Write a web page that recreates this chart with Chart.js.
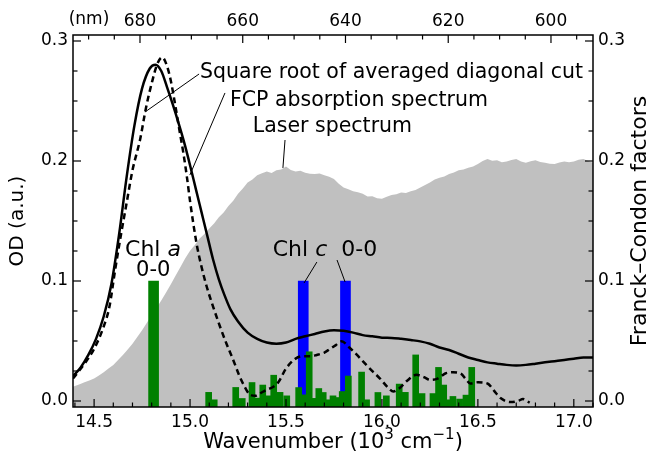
<!DOCTYPE html>
<html>
<head>
<meta charset="utf-8">
<script src="https://cdn.jsdelivr.net/npm/chart.js@4.4.1/dist/chart.umd.min.js"></script>
<style>
  html, body { margin: 0; padding: 0; background: #fff; }
</style>
</head>
<body>
<canvas id="fcp-chart" width="653" height="459"></canvas>
<script>
// wavenumber in 10^3 cm-1
var laserWn = [14.350, 14.375, 14.400, 14.425, 14.450, 14.475, 14.500, 14.525, 14.550, 14.575, 14.600, 14.625,
  14.650, 14.675, 14.700, 14.725, 14.750, 14.775, 14.800, 14.825, 14.850, 14.875, 14.900, 14.925, 14.950, 14.975,
  15.000, 15.025, 15.050, 15.075, 15.100, 15.125, 15.150, 15.175, 15.200, 15.225, 15.250, 15.275, 15.300, 15.325,
  15.350, 15.375, 15.400, 15.425, 15.450, 15.475, 15.500, 15.525, 15.550, 15.575, 15.600, 15.625, 15.650, 15.675,
  15.700, 15.725, 15.750, 15.775, 15.800, 15.825, 15.850, 15.875, 15.900, 15.925, 15.950, 15.975, 16.000, 16.025,
  16.050, 16.075, 16.100, 16.125, 16.150, 16.175, 16.200, 16.225, 16.250, 16.275, 16.300, 16.325, 16.350, 16.375,
  16.400, 16.425, 16.450, 16.475, 16.500, 16.525, 16.550, 16.575, 16.600, 16.625, 16.650, 16.675, 16.700, 16.725,
  16.750, 16.775, 16.800, 16.825, 16.850, 16.875, 16.900, 16.925, 16.950, 16.975, 17.000, 17.025, 17.050, 17.075,
  17.100, 17.125, 17.150];
var laserOD = [0.0094, 0.0110, 0.0125, 0.0140, 0.0156, 0.0171, 0.0187, 0.0212, 0.0239, 0.0270, 0.0301, 0.0342,
  0.0384, 0.0430, 0.0477, 0.0533, 0.0590, 0.0652, 0.0714, 0.0776, 0.0838, 0.0905, 0.0973, 0.1045, 0.1117, 0.1190,
  0.1252, 0.1300, 0.1355, 0.1392, 0.1438, 0.1480, 0.1531, 0.1570, 0.1624, 0.1668, 0.1727, 0.1770, 0.1820, 0.1845,
  0.1882, 0.1898, 0.1913, 0.1901, 0.1923, 0.1930, 0.1954, 0.1925, 0.1913, 0.1918, 0.1903, 0.1893, 0.1892, 0.1895,
  0.1882, 0.1868, 0.1851, 0.1810, 0.1779, 0.1765, 0.1748, 0.1740, 0.1727, 0.1705, 0.1706, 0.1690, 0.1686, 0.1702,
  0.1717, 0.1722, 0.1737, 0.1734, 0.1748, 0.1758, 0.1779, 0.1800, 0.1820, 0.1845, 0.1861, 0.1870, 0.1892, 0.1905,
  0.1923, 0.1930, 0.1944, 0.1955, 0.1975, 0.2000, 0.2016, 0.2002, 0.2006, 0.1990, 0.1996, 0.2008, 0.2016, 0.1995,
  0.1985, 0.1998, 0.2006, 0.1992, 0.1985, 0.1978, 0.1975, 0.1988, 0.1996, 0.1990, 0.1996, 0.2010, 0.2016, 0.2000,
  0.1985, 0.1980, 0.1975];

var absWn = [14.39, 14.43, 14.47, 14.51, 14.55, 14.59, 14.63, 14.67, 14.71, 14.75, 14.79, 14.82, 14.85, 14.88,
  14.91, 14.94, 14.97, 15.00, 15.03, 15.06, 15.09, 15.12, 15.15, 15.18, 15.21, 15.25, 15.30, 15.35, 15.40, 15.45,
  15.50, 15.55, 15.60, 15.65, 15.70, 15.75, 15.80, 15.85, 15.90, 15.95, 16.00, 16.05, 16.10, 16.15, 16.20, 16.25,
  16.30, 16.35, 16.40, 16.45, 16.50, 16.55, 16.60, 16.65, 16.70, 16.75, 16.80, 16.85, 16.90, 16.95, 17.00, 17.05, 17.10];
var absOD = [0.0208, 0.028, 0.0384, 0.0518, 0.0704, 0.0973, 0.1386, 0.1872, 0.2295, 0.2605, 0.2771, 0.2802, 0.275, 0.2616,
  0.2471, 0.2316, 0.2151, 0.1965, 0.1768, 0.1572, 0.1376, 0.1179, 0.1014, 0.088, 0.0766, 0.0663, 0.057, 0.0518, 0.0487, 0.0477,
  0.0487, 0.0518, 0.0539, 0.0559, 0.058, 0.059, 0.0585, 0.057, 0.0549, 0.0539, 0.0528, 0.0526, 0.0518, 0.0508, 0.0497, 0.0477,
  0.0446, 0.0425, 0.0394, 0.0363, 0.0342, 0.0322, 0.0311, 0.0301, 0.0296, 0.0301, 0.0311, 0.0322, 0.0332, 0.0342, 0.0353, 0.0363, 0.0363];

var cutWn = [14.39, 14.45, 14.50, 14.55, 14.58, 14.61, 14.64, 14.67, 14.70, 14.74, 14.77, 14.80, 14.83, 14.855,
  14.88, 14.90, 14.92, 14.945, 14.965, 14.985, 15.00, 15.035, 15.06, 15.087, 15.12, 15.156, 15.19, 15.225, 15.255,
  15.286, 15.312, 15.34, 15.364, 15.40, 15.43, 15.46, 15.50, 15.55, 15.59, 15.63, 15.66, 15.70, 15.73, 15.76, 15.79,
  15.83, 15.87, 15.90, 15.95, 15.99, 16.03, 16.06, 16.09, 16.13, 16.18, 16.22, 16.25, 16.29, 16.33, 16.37, 16.41,
  16.44, 16.46, 16.50, 16.55, 16.59, 16.62, 16.67, 16.71, 16.735, 16.77];
var cutOD = [0.0187, 0.0311, 0.0435, 0.0621, 0.0787, 0.1097, 0.1386, 0.1655, 0.1923, 0.2182, 0.244, 0.2647, 0.2812, 0.2864,
  0.2791, 0.2667, 0.2492, 0.2254, 0.2068, 0.1851, 0.1665, 0.1303, 0.1117, 0.0952, 0.0787, 0.0621, 0.0477, 0.0342, 0.0218,
  0.0115, 0.0053, 0.0043, 0.0063, 0.0094, 0.0115, 0.0156, 0.027, 0.0353, 0.0373, 0.0373, 0.0384, 0.0404, 0.0435, 0.0466, 0.0497,
  0.0446, 0.0384, 0.0332, 0.0249, 0.0187, 0.0115, 0.0079, 0.0105, 0.0167, 0.0218, 0.0198, 0.0177, 0.0187, 0.0229, 0.0239, 0.0229,
  0.0177, 0.0146, 0.0156, 0.0146, 0.0074, 0.0022, -0.0009, 0.0001, 0.0017, -0.0014];

// Franck-Condon factors
var fcWn = [15.097, 15.126, 15.238, 15.272, 15.323, 15.351, 15.379, 15.407, 15.436, 15.469, 15.504, 15.566,
  15.593, 15.621, 15.647, 15.671, 15.694, 15.712, 15.745, 15.769, 15.793, 15.825, 15.894, 15.920, 15.979, 16.023,
  16.090, 16.122, 16.176, 16.209, 16.266, 16.295, 16.322, 16.344, 16.370, 16.405, 16.438, 16.468];
var fcVal = [0.0072, 0.001, 0.0113, 0.0021, 0.0154, 0.0024, 0.0133, 0.0043, 0.0215, 0.0072, 0.0043, 0.0112,
  0.0051, 0.041, 0.0022, 0.0104, 0.0071, 0.001, 0.0043, 0.0029, 0.0079, 0.0208, 0.0241, 0.001, 0.0071, 0.0043,
  0.0141, 0.0072, 0.0384, 0.0062, 0.0062, 0.028, 0.0133, 0.001, 0.0038, 0.0016, 0.0049, 0.028];
var chlaWn = [14.81];
var chlaVal = [0.1];
var chlcWn = [15.59, 15.81];
var chlcVal = [0.1, 0.1];

var wnTicks = [14.5, 15.0, 15.5, 16.0, 16.5, 17.0];
var nmTicks = [680, 660, 640, 620, 600];
var odTicks = [0, 0.1, 0.2, 0.3];
var Y_MIN = -0.005, Y_MAX = 0.305;

function pts(xs, ys) {
  return xs.map(function (x, i) { return { x: x, y: ys[i] }; });
}

var FONT = '"DejaVu Sans", sans-serif';
Chart.defaults.font.family = FONT;
Chart.defaults.color = "#000";

// draws a run of [text, fontPrefix, size, rise] pieces centred on (cx, cy)
function drawRun(ctx, parts, cx, cy) {
  var w = 0;
  parts.forEach(function (p) { ctx.font = p[1] + p[2] + "px " + FONT; w += ctx.measureText(p[0]).width; });
  var x0 = cx - w / 2;
  ctx.textAlign = "left";
  parts.forEach(function (p) {
    ctx.font = p[1] + p[2] + "px " + FONT;
    ctx.fillText(p[0], x0, cy - (p[3] || 0));
    x0 += ctx.measureText(p[0]).width;
  });
}

// inward ticks on all four sides, the box and the outer axis titles
var frame = {
  id: "frame",
  afterDraw(chart) {
    var ctx = chart.ctx, a = chart.chartArea, x = chart.scales.x, y = chart.scales.y, t = chart.scales.xTop;
    function seg(x1, y1, x2, y2) { ctx.beginPath(); ctx.moveTo(x1, y1); ctx.lineTo(x2, y2); ctx.stroke(); }
    ctx.save();
    ctx.strokeStyle = "#000";
    ctx.lineWidth = 1.2;
    for (var i = 144; i <= 171; i++) {
      var v = i / 10;
      if (v < x.min || v > x.max) continue;
      var p = x.getPixelForValue(v);
      seg(p, a.bottom, p, a.bottom - (i % 5 === 0 ? 8 : 4.5));
    }
    for (var j = 0; j <= 12; j++) {
      var q = y.getPixelForValue(j * 0.025), len = j % 4 === 0 ? 8 : 4.5;
      seg(a.left, q, a.left + len, q);
      seg(a.right, q, a.right - len, q);
    }
    for (var nm = 595; nm <= 690; nm += 5) {
      var r = t.getPixelForValue(nm);
      seg(r, a.top, r, a.top + (nm % 20 === 0 ? 8 : 4.5));
    }
    ctx.lineWidth = 1.5;
    ctx.strokeRect(a.left, a.top, a.right - a.left, a.bottom - a.top);

    ctx.fillStyle = "#000";
    ctx.textBaseline = "middle";
    ctx.textAlign = "center";
    ctx.font = "17px " + FONT;
    ctx.fillText("(nm)", a.left + 16, 20);
    drawRun(ctx, [["Wavenumber (10", "", 21], ["3", "", 15, 8], [" cm", "", 21], ["\u22121", "", 15, 8], [")", "", 21]],
      (a.left + a.right) / 2, 443);
    ctx.save();
    ctx.translate(640, (a.top + a.bottom) / 2);
    ctx.rotate(-Math.PI / 2);
    ctx.textAlign = "center";
    ctx.font = "22px " + FONT;
    ctx.fillText("Franck\u2013Condon factors", 0, 0);
    ctx.restore();
    ctx.restore();
  },
};

// labels with leader lines, anchored in data coordinates
var notes = [
  { text: "Square root of averaged diagonal cut", at: [16.05, 0.2733], line: [[15.047, 0.2725], [14.765, 0.2408]] },
  { text: "FCP absorption spectrum", at: [15.88, 0.25], line: [[15.182, 0.2567], [14.999, 0.1883]] },
  { text: "Laser spectrum", at: [15.742, 0.2283], line: [[15.495, 0.2175], [15.484, 0.1942]] },
];
var chlNotes = [
  { parts: [["Chl ", "", 22], ["a", "italic ", 22]], at: [14.807, 0.1258] },
  { parts: [["0-0", "", 21]], at: [14.808, 0.1083] },
  { parts: [["Chl ", "", 22], ["c", "italic ", 22], ["  0-0", "", 22]], at: [15.703, 0.1258],
    lines: [[[15.661, 0.1158], [15.594, 0.0983]], [[15.766, 0.1175], [15.808, 0.0992]]] },
];

var annotate = {
  id: "annotate",
  afterDraw(chart) {
    var ctx = chart.ctx, x = chart.scales.x, y = chart.scales.y;
    function px(v) { return x.getPixelForValue(v); }
    function py(v) { return y.getPixelForValue(v); }
    function lead(l) {
      ctx.beginPath();
      ctx.moveTo(px(l[0][0]), py(l[0][1]));
      ctx.lineTo(px(l[1][0]), py(l[1][1]));
      ctx.stroke();
    }
    ctx.save();
    ctx.fillStyle = "#000";
    ctx.strokeStyle = "#000";
    ctx.lineWidth = 1;
    ctx.textBaseline = "middle";
    ctx.textAlign = "center";
    ctx.font = "20.5px " + FONT;
    notes.forEach(function (n) {
      ctx.fillText(n.text, px(n.at[0]), py(n.at[1]));
      lead(n.line);
    });
    chlNotes.forEach(function (n) {
      drawRun(ctx, n.parts, px(n.at[0]), py(n.at[1]));
      (n.lines || []).forEach(lead);
    });
    ctx.restore();
  },
};

function fixTicks(list) {
  return function (s) { s.ticks = list.map(function (v) { return { value: v }; }); };
}

new Chart(document.getElementById("fcp-chart"), {
  type: "line",
  data: {
    datasets: [
      { label: "Square root of averaged diagonal cut", data: pts(cutWn, cutOD), borderColor: "#000", borderWidth: 2.5,
        borderDash: [6, 4], pointRadius: 0, cubicInterpolationMode: "monotone", order: 0 },
      { label: "FCP absorption spectrum", data: pts(absWn, absOD), borderColor: "#000", borderWidth: 2.5,
        pointRadius: 0, cubicInterpolationMode: "monotone", order: 1 },
      { type: "bar", label: "FC factors", data: pts(fcWn, fcVal), backgroundColor: "#008000", barThickness: 6,
        base: Y_MIN, grouped: false, yAxisID: "y2", order: 2 },
      { type: "bar", label: "Chl a 0-0", data: pts(chlaWn, chlaVal), backgroundColor: "#008000", barThickness: 10,
        base: Y_MIN, grouped: false, yAxisID: "y2", order: 3 },
      { type: "bar", label: "Chl c 0-0", data: pts(chlcWn, chlcVal), backgroundColor: "#0000ff", barThickness: 10,
        base: Y_MIN, grouped: false, yAxisID: "y2", order: 4 },
      { label: "Laser spectrum", data: pts(laserWn, laserOD), borderWidth: 0, borderColor: "rgba(0,0,0,0)",
        backgroundColor: "#c0c0c0", fill: "start", pointRadius: 0, tension: 0, order: 5 },
    ],
  },
  options: {
    responsive: false,
    animation: false,
    devicePixelRatio: 1,
    layout: { padding: 0 },
    plugins: { legend: { display: false }, tooltip: { enabled: false } },
    scales: {
      x: {
        type: "linear", position: "bottom", min: 14.39, max: 17.1, offset: false,
        grid: { display: false, drawTicks: false }, border: { display: false },
        ticks: { font: { size: 17 }, padding: 5, autoSkip: false, maxRotation: 0,
          callback: function (v) { return v.toFixed(1); } },
        afterBuildTicks: fixTicks(wnTicks),
        afterFit: function (s) { s.height = 52; },
      },
      xTop: {
        type: "linear", position: "top", min: 591.82, max: 693.04, reverse: true, offset: false,
        grid: { display: false, drawTicks: false }, border: { display: false },
        ticks: { font: { size: 17 }, padding: 3, autoSkip: false, maxRotation: 0,
          callback: function (v) { return String(v); } },
        afterBuildTicks: fixTicks(nmTicks),
        afterFit: function (s) { s.height = 35; },
      },
      y: {
        type: "linear", position: "left", min: Y_MIN, max: Y_MAX,
        grid: { display: false, drawTicks: false }, border: { display: false },
        ticks: { font: { size: 17 }, padding: 5, callback: function (v) { return v.toFixed(1); } },
        afterBuildTicks: fixTicks(odTicks),
        afterFit: function (s) { s.width = 73; },
        title: { display: true, text: "OD (a.u.)", font: { size: 20 }, padding: { top: 6, bottom: 0 } },
      },
      y2: {
        type: "linear", position: "right", min: Y_MIN, max: Y_MAX,
        grid: { display: false, drawTicks: false }, border: { display: false },
        ticks: { font: { size: 17 }, padding: 5, callback: function (v) { return v.toFixed(1); } },
        afterBuildTicks: fixTicks(odTicks),
        afterFit: function (s) { s.width = 60; },
      },
    },
  },
  plugins: [frame, annotate],
});
</script>
</body>
</html>
